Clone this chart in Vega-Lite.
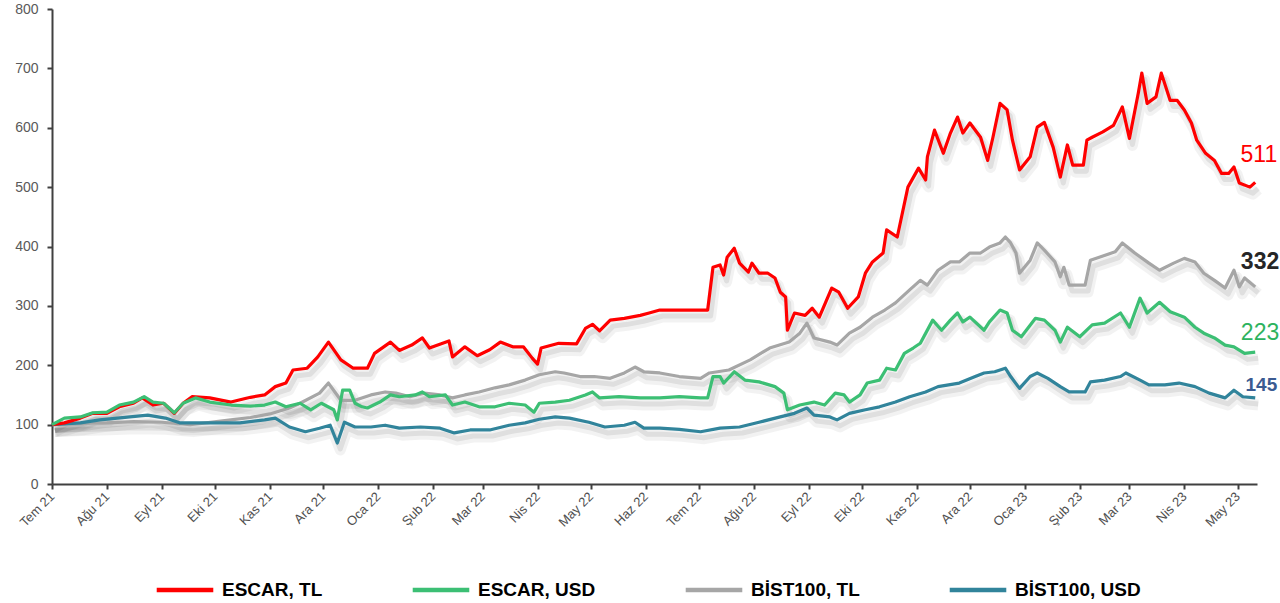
{
  "$schema": "https://vega.github.io/schema/vega-lite/v6.json",
  "autosize": {"type": "none"},
  "width": 1205,
  "height": 475,
  "padding": {"left": 52, "top": 9, "right": 23, "bottom": 119},
  "background": "white",
  "config": {"view": {"stroke": null}, "font": "Liberation Sans"},
  "datasets": {
    "lines": [
      {"series":"BİST100, TL","date":"2021-07-01","value":100},
      {"series":"BİST100, TL","date":"2021-07-17","value":102},
      {"series":"BİST100, TL","date":"2021-08-01","value":103},
      {"series":"BİST100, TL","date":"2021-08-16","value":105},
      {"series":"BİST100, TL","date":"2021-09-01","value":104},
      {"series":"BİST100, TL","date":"2021-09-17","value":100},
      {"series":"BİST100, TL","date":"2021-09-26","value":103},
      {"series":"BİST100, TL","date":"2021-10-10","value":108},
      {"series":"BİST100, TL","date":"2021-10-21","value":112},
      {"series":"BİST100, TL","date":"2021-11-01","value":118},
      {"series":"BİST100, TL","date":"2021-11-12","value":128},
      {"series":"BİST100, TL","date":"2021-11-18","value":136},
      {"series":"BİST100, TL","date":"2021-11-29","value":153},
      {"series":"BİST100, TL","date":"2021-12-04","value":170},
      {"series":"BİST100, TL","date":"2021-12-11","value":141},
      {"series":"BİST100, TL","date":"2021-12-19","value":141},
      {"series":"BİST100, TL","date":"2021-12-28","value":150},
      {"series":"BİST100, TL","date":"2022-01-05","value":155},
      {"series":"BİST100, TL","date":"2022-01-11","value":153},
      {"series":"BİST100, TL","date":"2022-01-19","value":147},
      {"series":"BİST100, TL","date":"2022-01-27","value":153},
      {"series":"BİST100, TL","date":"2022-02-05","value":150},
      {"series":"BİST100, TL","date":"2022-02-12","value":145},
      {"series":"BİST100, TL","date":"2022-02-19","value":150},
      {"series":"BİST100, TL","date":"2022-02-27","value":155},
      {"series":"BİST100, TL","date":"2022-03-08","value":162},
      {"series":"BİST100, TL","date":"2022-03-16","value":167},
      {"series":"BİST100, TL","date":"2022-03-25","value":175},
      {"series":"BİST100, TL","date":"2022-04-02","value":184},
      {"series":"BİST100, TL","date":"2022-04-11","value":189},
      {"series":"BİST100, TL","date":"2022-04-16","value":187},
      {"series":"BİST100, TL","date":"2022-04-25","value":181},
      {"series":"BİST100, TL","date":"2022-05-03","value":181},
      {"series":"BİST100, TL","date":"2022-05-12","value":178},
      {"series":"BİST100, TL","date":"2022-05-20","value":187},
      {"series":"BİST100, TL","date":"2022-05-26","value":197},
      {"series":"BİST100, TL","date":"2022-05-31","value":189},
      {"series":"BİST100, TL","date":"2022-06-09","value":187},
      {"series":"BİST100, TL","date":"2022-06-20","value":181},
      {"series":"BİST100, TL","date":"2022-07-02","value":178},
      {"series":"BİST100, TL","date":"2022-07-07","value":187},
      {"series":"BİST100, TL","date":"2022-07-18","value":192},
      {"series":"BİST100, TL","date":"2022-07-30","value":209},
      {"series":"BİST100, TL","date":"2022-08-10","value":229},
      {"series":"BİST100, TL","date":"2022-08-21","value":239},
      {"series":"BİST100, TL","date":"2022-08-27","value":254},
      {"series":"BİST100, TL","date":"2022-08-31","value":271},
      {"series":"BİST100, TL","date":"2022-09-04","value":246},
      {"series":"BİST100, TL","date":"2022-09-13","value":239},
      {"series":"BİST100, TL","date":"2022-09-17","value":234},
      {"series":"BİST100, TL","date":"2022-09-24","value":254},
      {"series":"BİST100, TL","date":"2022-09-30","value":264},
      {"series":"BİST100, TL","date":"2022-10-07","value":281},
      {"series":"BİST100, TL","date":"2022-10-14","value":293},
      {"series":"BİST100, TL","date":"2022-10-20","value":305},
      {"series":"BİST100, TL","date":"2022-10-28","value":327},
      {"series":"BİST100, TL","date":"2022-11-03","value":343},
      {"series":"BİST100, TL","date":"2022-11-07","value":335},
      {"series":"BİST100, TL","date":"2022-11-13","value":360},
      {"series":"BİST100, TL","date":"2022-11-20","value":374},
      {"series":"BİST100, TL","date":"2022-11-25","value":374},
      {"series":"BİST100, TL","date":"2022-12-01","value":389},
      {"series":"BİST100, TL","date":"2022-12-07","value":389},
      {"series":"BİST100, TL","date":"2022-12-12","value":399},
      {"series":"BİST100, TL","date":"2022-12-18","value":406},
      {"series":"BİST100, TL","date":"2022-12-21","value":416},
      {"series":"BİST100, TL","date":"2022-12-24","value":406},
      {"series":"BİST100, TL","date":"2022-12-27","value":389},
      {"series":"BİST100, TL","date":"2022-12-29","value":355},
      {"series":"BİST100, TL","date":"2023-01-04","value":377},
      {"series":"BİST100, TL","date":"2023-01-08","value":406},
      {"series":"BİST100, TL","date":"2023-01-12","value":394},
      {"series":"BİST100, TL","date":"2023-01-18","value":374},
      {"series":"BİST100, TL","date":"2023-01-21","value":349},
      {"series":"BİST100, TL","date":"2023-01-23","value":365},
      {"series":"BİST100, TL","date":"2023-01-26","value":335},
      {"series":"BİST100, TL","date":"2023-02-04","value":335},
      {"series":"BİST100, TL","date":"2023-02-07","value":377},
      {"series":"BİST100, TL","date":"2023-02-12","value":382},
      {"series":"BİST100, TL","date":"2023-02-21","value":391},
      {"series":"BİST100, TL","date":"2023-02-25","value":406},
      {"series":"BİST100, TL","date":"2023-03-04","value":389},
      {"series":"BİST100, TL","date":"2023-03-12","value":372},
      {"series":"BİST100, TL","date":"2023-03-18","value":360},
      {"series":"BİST100, TL","date":"2023-03-26","value":372},
      {"series":"BİST100, TL","date":"2023-04-01","value":380},
      {"series":"BİST100, TL","date":"2023-04-07","value":374},
      {"series":"BİST100, TL","date":"2023-04-12","value":355},
      {"series":"BİST100, TL","date":"2023-04-18","value":343},
      {"series":"BİST100, TL","date":"2023-04-24","value":330},
      {"series":"BİST100, TL","date":"2023-04-29","value":360},
      {"series":"BİST100, TL","date":"2023-05-02","value":332},
      {"series":"BİST100, TL","date":"2023-05-05","value":347},
      {"series":"BİST100, TL","date":"2023-05-11","value":332},

      {"series":"BİST100, USD","date":"2021-07-01","value":100},
      {"series":"BİST100, USD","date":"2021-07-17","value":103},
      {"series":"BİST100, USD","date":"2021-07-28","value":108},
      {"series":"BİST100, USD","date":"2021-08-14","value":113},
      {"series":"BİST100, USD","date":"2021-08-24","value":116},
      {"series":"BİST100, USD","date":"2021-09-03","value":111},
      {"series":"BİST100, USD","date":"2021-09-11","value":103},
      {"series":"BİST100, USD","date":"2021-09-28","value":103},
      {"series":"BİST100, USD","date":"2021-10-15","value":103},
      {"series":"BİST100, USD","date":"2021-10-29","value":108},
      {"series":"BİST100, USD","date":"2021-11-04","value":111},
      {"series":"BİST100, USD","date":"2021-11-12","value":96},
      {"series":"BİST100, USD","date":"2021-11-21","value":88},
      {"series":"BİST100, USD","date":"2021-11-29","value":94},
      {"series":"BİST100, USD","date":"2021-12-05","value":99},
      {"series":"BİST100, USD","date":"2021-12-09","value":69},
      {"series":"BİST100, USD","date":"2021-12-13","value":104},
      {"series":"BİST100, USD","date":"2021-12-19","value":96},
      {"series":"BİST100, USD","date":"2021-12-28","value":96},
      {"series":"BİST100, USD","date":"2022-01-05","value":99},
      {"series":"BİST100, USD","date":"2022-01-13","value":94},
      {"series":"BİST100, USD","date":"2022-01-25","value":96},
      {"series":"BİST100, USD","date":"2022-02-05","value":94},
      {"series":"BİST100, USD","date":"2022-02-13","value":86},
      {"series":"BİST100, USD","date":"2022-02-22","value":91},
      {"series":"BİST100, USD","date":"2022-03-05","value":91},
      {"series":"BİST100, USD","date":"2022-03-16","value":99},
      {"series":"BİST100, USD","date":"2022-03-25","value":103},
      {"series":"BİST100, USD","date":"2022-04-02","value":109},
      {"series":"BİST100, USD","date":"2022-04-11","value":113},
      {"series":"BİST100, USD","date":"2022-04-19","value":111},
      {"series":"BİST100, USD","date":"2022-04-30","value":104},
      {"series":"BİST100, USD","date":"2022-05-09","value":96},
      {"series":"BİST100, USD","date":"2022-05-20","value":99},
      {"series":"BİST100, USD","date":"2022-05-26","value":104},
      {"series":"BİST100, USD","date":"2022-05-31","value":94},
      {"series":"BİST100, USD","date":"2022-06-09","value":94},
      {"series":"BİST100, USD","date":"2022-06-20","value":92},
      {"series":"BİST100, USD","date":"2022-07-02","value":88},
      {"series":"BİST100, USD","date":"2022-07-13","value":94},
      {"series":"BİST100, USD","date":"2022-07-24","value":96},
      {"series":"BİST100, USD","date":"2022-08-04","value":104},
      {"series":"BİST100, USD","date":"2022-08-16","value":113},
      {"series":"BİST100, USD","date":"2022-08-24","value":119},
      {"series":"BİST100, USD","date":"2022-08-31","value":128},
      {"series":"BİST100, USD","date":"2022-09-04","value":116},
      {"series":"BİST100, USD","date":"2022-09-13","value":113},
      {"series":"BİST100, USD","date":"2022-09-17","value":108},
      {"series":"BİST100, USD","date":"2022-09-24","value":119},
      {"series":"BİST100, USD","date":"2022-10-03","value":125},
      {"series":"BİST100, USD","date":"2022-10-11","value":130},
      {"series":"BİST100, USD","date":"2022-10-20","value":138},
      {"series":"BİST100, USD","date":"2022-10-28","value":147},
      {"series":"BİST100, USD","date":"2022-11-06","value":155},
      {"series":"BİST100, USD","date":"2022-11-13","value":164},
      {"series":"BİST100, USD","date":"2022-11-25","value":170},
      {"series":"BİST100, USD","date":"2022-12-04","value":181},
      {"series":"BİST100, USD","date":"2022-12-09","value":187},
      {"series":"BİST100, USD","date":"2022-12-15","value":189},
      {"series":"BİST100, USD","date":"2022-12-21","value":195},
      {"series":"BİST100, USD","date":"2022-12-24","value":181},
      {"series":"BİST100, USD","date":"2022-12-29","value":161},
      {"series":"BİST100, USD","date":"2023-01-04","value":181},
      {"series":"BİST100, USD","date":"2023-01-08","value":187},
      {"series":"BİST100, USD","date":"2023-01-14","value":178},
      {"series":"BİST100, USD","date":"2023-01-21","value":164},
      {"series":"BİST100, USD","date":"2023-01-26","value":155},
      {"series":"BİST100, USD","date":"2023-02-04","value":155},
      {"series":"BİST100, USD","date":"2023-02-07","value":172},
      {"series":"BİST100, USD","date":"2023-02-15","value":175},
      {"series":"BİST100, USD","date":"2023-02-24","value":181},
      {"series":"BİST100, USD","date":"2023-02-27","value":187},
      {"series":"BİST100, USD","date":"2023-03-07","value":175},
      {"series":"BİST100, USD","date":"2023-03-12","value":167},
      {"series":"BİST100, USD","date":"2023-03-21","value":167},
      {"series":"BİST100, USD","date":"2023-03-29","value":170},
      {"series":"BİST100, USD","date":"2023-04-07","value":164},
      {"series":"BİST100, USD","date":"2023-04-15","value":153},
      {"series":"BİST100, USD","date":"2023-04-24","value":145},
      {"series":"BİST100, USD","date":"2023-04-29","value":158},
      {"series":"BİST100, USD","date":"2023-05-04","value":147},
      {"series":"BİST100, USD","date":"2023-05-11","value":145},

      {"series":"ESCAR, TL","date":"2021-07-01","value":100},
      {"series":"ESCAR, TL","date":"2021-07-08","value":103},
      {"series":"ESCAR, TL","date":"2021-07-17","value":111},
      {"series":"ESCAR, TL","date":"2021-07-24","value":119},
      {"series":"ESCAR, TL","date":"2021-08-01","value":119},
      {"series":"ESCAR, TL","date":"2021-08-08","value":130},
      {"series":"ESCAR, TL","date":"2021-08-16","value":136},
      {"series":"ESCAR, TL","date":"2021-08-21","value":145},
      {"series":"ESCAR, TL","date":"2021-08-27","value":133},
      {"series":"ESCAR, TL","date":"2021-09-02","value":136},
      {"series":"ESCAR, TL","date":"2021-09-08","value":119},
      {"series":"ESCAR, TL","date":"2021-09-13","value":136},
      {"series":"ESCAR, TL","date":"2021-09-18","value":147},
      {"series":"ESCAR, TL","date":"2021-09-28","value":145},
      {"series":"ESCAR, TL","date":"2021-10-10","value":138},
      {"series":"ESCAR, TL","date":"2021-10-21","value":146},
      {"series":"ESCAR, TL","date":"2021-10-29","value":150},
      {"series":"ESCAR, TL","date":"2021-11-04","value":164},
      {"series":"ESCAR, TL","date":"2021-11-10","value":170},
      {"series":"ESCAR, TL","date":"2021-11-14","value":192},
      {"series":"ESCAR, TL","date":"2021-11-22","value":195},
      {"series":"ESCAR, TL","date":"2021-11-28","value":214},
      {"series":"ESCAR, TL","date":"2021-12-04","value":239},
      {"series":"ESCAR, TL","date":"2021-12-11","value":209},
      {"series":"ESCAR, TL","date":"2021-12-18","value":195},
      {"series":"ESCAR, TL","date":"2021-12-26","value":195},
      {"series":"ESCAR, TL","date":"2021-12-30","value":220},
      {"series":"ESCAR, TL","date":"2022-01-08","value":239},
      {"series":"ESCAR, TL","date":"2022-01-13","value":225},
      {"series":"ESCAR, TL","date":"2022-01-20","value":234},
      {"series":"ESCAR, TL","date":"2022-01-26","value":246},
      {"series":"ESCAR, TL","date":"2022-01-30","value":229},
      {"series":"ESCAR, TL","date":"2022-02-10","value":241},
      {"series":"ESCAR, TL","date":"2022-02-12","value":214},
      {"series":"ESCAR, TL","date":"2022-02-19","value":231},
      {"series":"ESCAR, TL","date":"2022-02-26","value":216},
      {"series":"ESCAR, TL","date":"2022-03-05","value":226},
      {"series":"ESCAR, TL","date":"2022-03-11","value":239},
      {"series":"ESCAR, TL","date":"2022-03-18","value":231},
      {"series":"ESCAR, TL","date":"2022-03-24","value":231},
      {"series":"ESCAR, TL","date":"2022-03-29","value":212},
      {"series":"ESCAR, TL","date":"2022-04-01","value":202},
      {"series":"ESCAR, TL","date":"2022-04-03","value":229},
      {"series":"ESCAR, TL","date":"2022-04-13","value":237},
      {"series":"ESCAR, TL","date":"2022-04-23","value":236},
      {"series":"ESCAR, TL","date":"2022-04-28","value":262},
      {"series":"ESCAR, TL","date":"2022-05-02","value":269},
      {"series":"ESCAR, TL","date":"2022-05-06","value":258},
      {"series":"ESCAR, TL","date":"2022-05-12","value":276},
      {"series":"ESCAR, TL","date":"2022-05-20","value":279},
      {"series":"ESCAR, TL","date":"2022-05-29","value":284},
      {"series":"ESCAR, TL","date":"2022-06-03","value":288},
      {"series":"ESCAR, TL","date":"2022-06-09","value":293},
      {"series":"ESCAR, TL","date":"2022-06-20","value":293},
      {"series":"ESCAR, TL","date":"2022-07-02","value":293},
      {"series":"ESCAR, TL","date":"2022-07-06","value":293},
      {"series":"ESCAR, TL","date":"2022-07-09","value":365},
      {"series":"ESCAR, TL","date":"2022-07-13","value":369},
      {"series":"ESCAR, TL","date":"2022-07-15","value":352},
      {"series":"ESCAR, TL","date":"2022-07-17","value":382},
      {"series":"ESCAR, TL","date":"2022-07-21","value":397},
      {"series":"ESCAR, TL","date":"2022-07-24","value":372},
      {"series":"ESCAR, TL","date":"2022-07-29","value":357},
      {"series":"ESCAR, TL","date":"2022-07-31","value":372},
      {"series":"ESCAR, TL","date":"2022-08-04","value":355},
      {"series":"ESCAR, TL","date":"2022-08-09","value":355},
      {"series":"ESCAR, TL","date":"2022-08-13","value":347},
      {"series":"ESCAR, TL","date":"2022-08-16","value":323},
      {"series":"ESCAR, TL","date":"2022-08-19","value":315},
      {"series":"ESCAR, TL","date":"2022-08-20","value":259},
      {"series":"ESCAR, TL","date":"2022-08-24","value":288},
      {"series":"ESCAR, TL","date":"2022-08-30","value":284},
      {"series":"ESCAR, TL","date":"2022-09-03","value":296},
      {"series":"ESCAR, TL","date":"2022-09-07","value":281},
      {"series":"ESCAR, TL","date":"2022-09-14","value":330},
      {"series":"ESCAR, TL","date":"2022-09-18","value":323},
      {"series":"ESCAR, TL","date":"2022-09-23","value":296},
      {"series":"ESCAR, TL","date":"2022-09-29","value":315},
      {"series":"ESCAR, TL","date":"2022-10-03","value":355},
      {"series":"ESCAR, TL","date":"2022-10-07","value":374},
      {"series":"ESCAR, TL","date":"2022-10-13","value":389},
      {"series":"ESCAR, TL","date":"2022-10-15","value":428},
      {"series":"ESCAR, TL","date":"2022-10-21","value":416},
      {"series":"ESCAR, TL","date":"2022-10-27","value":500},
      {"series":"ESCAR, TL","date":"2022-11-02","value":532},
      {"series":"ESCAR, TL","date":"2022-11-06","value":512},
      {"series":"ESCAR, TL","date":"2022-11-07","value":551},
      {"series":"ESCAR, TL","date":"2022-11-11","value":596},
      {"series":"ESCAR, TL","date":"2022-11-16","value":557},
      {"series":"ESCAR, TL","date":"2022-11-20","value":591},
      {"series":"ESCAR, TL","date":"2022-11-24","value":618},
      {"series":"ESCAR, TL","date":"2022-11-27","value":591},
      {"series":"ESCAR, TL","date":"2022-12-01","value":608},
      {"series":"ESCAR, TL","date":"2022-12-07","value":584},
      {"series":"ESCAR, TL","date":"2022-12-11","value":545},
      {"series":"ESCAR, TL","date":"2022-12-14","value":584},
      {"series":"ESCAR, TL","date":"2022-12-18","value":641},
      {"series":"ESCAR, TL","date":"2022-12-22","value":630},
      {"series":"ESCAR, TL","date":"2022-12-25","value":579},
      {"series":"ESCAR, TL","date":"2022-12-29","value":529},
      {"series":"ESCAR, TL","date":"2023-01-04","value":551},
      {"series":"ESCAR, TL","date":"2023-01-08","value":601},
      {"series":"ESCAR, TL","date":"2023-01-12","value":609},
      {"series":"ESCAR, TL","date":"2023-01-17","value":567},
      {"series":"ESCAR, TL","date":"2023-01-21","value":517},
      {"series":"ESCAR, TL","date":"2023-01-25","value":571},
      {"series":"ESCAR, TL","date":"2023-01-28","value":537},
      {"series":"ESCAR, TL","date":"2023-02-03","value":537},
      {"series":"ESCAR, TL","date":"2023-02-05","value":579},
      {"series":"ESCAR, TL","date":"2023-02-08","value":584},
      {"series":"ESCAR, TL","date":"2023-02-14","value":593},
      {"series":"ESCAR, TL","date":"2023-02-20","value":604},
      {"series":"ESCAR, TL","date":"2023-02-25","value":635},
      {"series":"ESCAR, TL","date":"2023-03-01","value":582},
      {"series":"ESCAR, TL","date":"2023-03-06","value":658},
      {"series":"ESCAR, TL","date":"2023-03-08","value":692},
      {"series":"ESCAR, TL","date":"2023-03-11","value":641},
      {"series":"ESCAR, TL","date":"2023-03-16","value":652},
      {"series":"ESCAR, TL","date":"2023-03-19","value":692},
      {"series":"ESCAR, TL","date":"2023-03-24","value":646},
      {"series":"ESCAR, TL","date":"2023-03-28","value":646},
      {"series":"ESCAR, TL","date":"2023-04-01","value":630},
      {"series":"ESCAR, TL","date":"2023-04-05","value":608},
      {"series":"ESCAR, TL","date":"2023-04-08","value":579},
      {"series":"ESCAR, TL","date":"2023-04-13","value":557},
      {"series":"ESCAR, TL","date":"2023-04-18","value":545},
      {"series":"ESCAR, TL","date":"2023-04-22","value":523},
      {"series":"ESCAR, TL","date":"2023-04-26","value":523},
      {"series":"ESCAR, TL","date":"2023-04-29","value":534},
      {"series":"ESCAR, TL","date":"2023-05-02","value":507},
      {"series":"ESCAR, TL","date":"2023-05-08","value":500},
      {"series":"ESCAR, TL","date":"2023-05-11","value":508},

      {"series":"ESCAR, USD","date":"2021-07-01","value":100},
      {"series":"ESCAR, USD","date":"2021-07-08","value":111},
      {"series":"ESCAR, USD","date":"2021-07-17","value":113},
      {"series":"ESCAR, USD","date":"2021-07-24","value":120},
      {"series":"ESCAR, USD","date":"2021-08-01","value":121},
      {"series":"ESCAR, USD","date":"2021-08-08","value":133},
      {"series":"ESCAR, USD","date":"2021-08-16","value":138},
      {"series":"ESCAR, USD","date":"2021-08-22","value":147},
      {"series":"ESCAR, USD","date":"2021-08-27","value":138},
      {"series":"ESCAR, USD","date":"2021-09-02","value":136},
      {"series":"ESCAR, USD","date":"2021-09-08","value":120},
      {"series":"ESCAR, USD","date":"2021-09-13","value":136},
      {"series":"ESCAR, USD","date":"2021-09-20","value":145},
      {"series":"ESCAR, USD","date":"2021-09-28","value":138},
      {"series":"ESCAR, USD","date":"2021-10-10","value":133},
      {"series":"ESCAR, USD","date":"2021-10-21","value":131},
      {"series":"ESCAR, USD","date":"2021-10-29","value":133},
      {"series":"ESCAR, USD","date":"2021-11-04","value":138},
      {"series":"ESCAR, USD","date":"2021-11-10","value":130},
      {"series":"ESCAR, USD","date":"2021-11-18","value":136},
      {"series":"ESCAR, USD","date":"2021-11-24","value":125},
      {"series":"ESCAR, USD","date":"2021-11-30","value":136},
      {"series":"ESCAR, USD","date":"2021-12-07","value":125},
      {"series":"ESCAR, USD","date":"2021-12-09","value":108},
      {"series":"ESCAR, USD","date":"2021-12-12","value":158},
      {"series":"ESCAR, USD","date":"2021-12-16","value":158},
      {"series":"ESCAR, USD","date":"2021-12-19","value":136},
      {"series":"ESCAR, USD","date":"2021-12-23","value":130},
      {"series":"ESCAR, USD","date":"2021-12-26","value":128},
      {"series":"ESCAR, USD","date":"2022-01-02","value":138},
      {"series":"ESCAR, USD","date":"2022-01-08","value":150},
      {"series":"ESCAR, USD","date":"2022-01-13","value":147},
      {"series":"ESCAR, USD","date":"2022-01-22","value":150},
      {"series":"ESCAR, USD","date":"2022-01-26","value":155},
      {"series":"ESCAR, USD","date":"2022-01-30","value":147},
      {"series":"ESCAR, USD","date":"2022-02-08","value":150},
      {"series":"ESCAR, USD","date":"2022-02-12","value":133},
      {"series":"ESCAR, USD","date":"2022-02-19","value":138},
      {"series":"ESCAR, USD","date":"2022-02-27","value":130},
      {"series":"ESCAR, USD","date":"2022-03-08","value":130},
      {"series":"ESCAR, USD","date":"2022-03-16","value":136},
      {"series":"ESCAR, USD","date":"2022-03-25","value":133},
      {"series":"ESCAR, USD","date":"2022-03-30","value":121},
      {"series":"ESCAR, USD","date":"2022-04-02","value":136},
      {"series":"ESCAR, USD","date":"2022-04-11","value":138},
      {"series":"ESCAR, USD","date":"2022-04-19","value":141},
      {"series":"ESCAR, USD","date":"2022-04-28","value":150},
      {"series":"ESCAR, USD","date":"2022-05-02","value":155},
      {"series":"ESCAR, USD","date":"2022-05-06","value":145},
      {"series":"ESCAR, USD","date":"2022-05-17","value":147},
      {"series":"ESCAR, USD","date":"2022-05-29","value":145},
      {"series":"ESCAR, USD","date":"2022-06-09","value":145},
      {"series":"ESCAR, USD","date":"2022-06-20","value":147},
      {"series":"ESCAR, USD","date":"2022-07-02","value":145},
      {"series":"ESCAR, USD","date":"2022-07-06","value":145},
      {"series":"ESCAR, USD","date":"2022-07-09","value":181},
      {"series":"ESCAR, USD","date":"2022-07-13","value":181},
      {"series":"ESCAR, USD","date":"2022-07-15","value":170},
      {"series":"ESCAR, USD","date":"2022-07-21","value":189},
      {"series":"ESCAR, USD","date":"2022-07-27","value":175},
      {"series":"ESCAR, USD","date":"2022-08-04","value":172},
      {"series":"ESCAR, USD","date":"2022-08-13","value":164},
      {"series":"ESCAR, USD","date":"2022-08-18","value":153},
      {"series":"ESCAR, USD","date":"2022-08-20","value":125},
      {"series":"ESCAR, USD","date":"2022-08-27","value":133},
      {"series":"ESCAR, USD","date":"2022-09-04","value":138},
      {"series":"ESCAR, USD","date":"2022-09-10","value":133},
      {"series":"ESCAR, USD","date":"2022-09-16","value":153},
      {"series":"ESCAR, USD","date":"2022-09-21","value":150},
      {"series":"ESCAR, USD","date":"2022-09-24","value":138},
      {"series":"ESCAR, USD","date":"2022-09-30","value":150},
      {"series":"ESCAR, USD","date":"2022-10-04","value":170},
      {"series":"ESCAR, USD","date":"2022-10-11","value":175},
      {"series":"ESCAR, USD","date":"2022-10-15","value":195},
      {"series":"ESCAR, USD","date":"2022-10-20","value":192},
      {"series":"ESCAR, USD","date":"2022-10-25","value":220},
      {"series":"ESCAR, USD","date":"2022-10-30","value":229},
      {"series":"ESCAR, USD","date":"2022-11-03","value":237},
      {"series":"ESCAR, USD","date":"2022-11-10","value":276},
      {"series":"ESCAR, USD","date":"2022-11-15","value":259},
      {"series":"ESCAR, USD","date":"2022-11-20","value":276},
      {"series":"ESCAR, USD","date":"2022-11-24","value":288},
      {"series":"ESCAR, USD","date":"2022-11-27","value":273},
      {"series":"ESCAR, USD","date":"2022-12-01","value":281},
      {"series":"ESCAR, USD","date":"2022-12-09","value":259},
      {"series":"ESCAR, USD","date":"2022-12-12","value":273},
      {"series":"ESCAR, USD","date":"2022-12-18","value":293},
      {"series":"ESCAR, USD","date":"2022-12-22","value":288},
      {"series":"ESCAR, USD","date":"2022-12-25","value":259},
      {"series":"ESCAR, USD","date":"2022-12-30","value":248},
      {"series":"ESCAR, USD","date":"2023-01-07","value":279},
      {"series":"ESCAR, USD","date":"2023-01-12","value":276},
      {"series":"ESCAR, USD","date":"2023-01-18","value":259},
      {"series":"ESCAR, USD","date":"2023-01-21","value":239},
      {"series":"ESCAR, USD","date":"2023-01-25","value":264},
      {"series":"ESCAR, USD","date":"2023-02-01","value":248},
      {"series":"ESCAR, USD","date":"2023-02-08","value":268},
      {"series":"ESCAR, USD","date":"2023-02-15","value":271},
      {"series":"ESCAR, USD","date":"2023-02-24","value":288},
      {"series":"ESCAR, USD","date":"2023-03-01","value":264},
      {"series":"ESCAR, USD","date":"2023-03-07","value":313},
      {"series":"ESCAR, USD","date":"2023-03-11","value":288},
      {"series":"ESCAR, USD","date":"2023-03-18","value":306},
      {"series":"ESCAR, USD","date":"2023-03-24","value":290},
      {"series":"ESCAR, USD","date":"2023-04-01","value":281},
      {"series":"ESCAR, USD","date":"2023-04-07","value":264},
      {"series":"ESCAR, USD","date":"2023-04-12","value":254},
      {"series":"ESCAR, USD","date":"2023-04-18","value":246},
      {"series":"ESCAR, USD","date":"2023-04-24","value":234},
      {"series":"ESCAR, USD","date":"2023-04-29","value":231},
      {"series":"ESCAR, USD","date":"2023-05-05","value":220},
      {"series":"ESCAR, USD","date":"2023-05-11","value":222}
    ]
  },
  "encoding": {
    "x": {
      "field": "date",
      "type": "temporal",
      "title": null,
      "scale": {
        "type": "utc",
        "domain": [
          {"year": 2021, "month": 7, "date": 1, "utc": true},
          {"year": 2023, "month": 5, "date": 12, "utc": true}
        ]
      },
      "axis": {
        "values": [
          {"year": 2021, "month": 7, "date": 1, "utc": true},
          {"year": 2021, "month": 8, "date": 1, "utc": true},
          {"year": 2021, "month": 9, "date": 1, "utc": true},
          {"year": 2021, "month": 10, "date": 1, "utc": true},
          {"year": 2021, "month": 11, "date": 1, "utc": true},
          {"year": 2021, "month": 12, "date": 1, "utc": true},
          {"year": 2022, "month": 1, "date": 1, "utc": true},
          {"year": 2022, "month": 2, "date": 1, "utc": true},
          {"year": 2022, "month": 3, "date": 1, "utc": true},
          {"year": 2022, "month": 4, "date": 1, "utc": true},
          {"year": 2022, "month": 5, "date": 1, "utc": true},
          {"year": 2022, "month": 6, "date": 1, "utc": true},
          {"year": 2022, "month": 7, "date": 1, "utc": true},
          {"year": 2022, "month": 8, "date": 1, "utc": true},
          {"year": 2022, "month": 9, "date": 1, "utc": true},
          {"year": 2022, "month": 10, "date": 1, "utc": true},
          {"year": 2022, "month": 11, "date": 1, "utc": true},
          {"year": 2022, "month": 12, "date": 1, "utc": true},
          {"year": 2023, "month": 1, "date": 1, "utc": true},
          {"year": 2023, "month": 2, "date": 1, "utc": true},
          {"year": 2023, "month": 3, "date": 1, "utc": true},
          {"year": 2023, "month": 4, "date": 1, "utc": true},
          {"year": 2023, "month": 5, "date": 1, "utc": true}
        ],
        "labelExpr": "['Oca','Şub','Mar','Nis','May','Haz','Tem','Ağu','Eyl','Eki','Kas','Ara'][utcmonth(datum.value)] + ' ' + utcFormat(datum.value, '%y')",
        "labelAngle": -45,
        "labelAlign": "right",
        "labelBaseline": "middle",
        "labelFont": "Liberation Sans",
        "labelFontSize": 13,
        "labelColor": "#505050",
        "labelPadding": 5,
        "labelOverlap": false,
        "labelFlush": false,
        "grid": false,
        "domainColor": "#404040",
        "domainWidth": 2,
        "tickColor": "#404040",
        "tickWidth": 2,
        "tickSize": 5
      }
    },
    "y": {
      "field": "value",
      "type": "quantitative",
      "title": null,
      "scale": {"domain": [0, 800], "nice": false},
      "axis": {
        "values": [0, 100, 200, 300, 400, 500, 600, 700, 800],
        "labelFont": "Liberation Sans",
        "labelFontSize": 14,
        "labelColor": "#595959",
        "labelPadding": 9,
        "grid": false,
        "domainColor": "#404040",
        "domainWidth": 2,
        "tickColor": "#404040",
        "tickWidth": 2,
        "tickSize": 5
      }
    }
  },
  "layer": [
    {
      "data": {"name": "lines"},
      "mark": {"type": "line", "color": "#000000", "opacity": 0.05, "strokeWidth": 11, "xOffset": 3, "yOffset": 7, "strokeJoin": "round"},
      "encoding": {"detail": {"field": "series"}}
    },
    {
      "data": {"name": "lines"},
      "mark": {"type": "line", "color": "#000000", "opacity": 0.08, "strokeWidth": 5, "xOffset": 3, "yOffset": 6, "strokeJoin": "round"},
      "encoding": {"detail": {"field": "series"}}
    },
    {
      "data": {"name": "lines"},
      "mark": {"type": "line", "strokeWidth": 3.2, "strokeJoin": "round"},
      "encoding": {
        "color": {
          "field": "series",
          "type": "nominal",
          "sort": null,
          "scale": {
            "domain": ["ESCAR, TL", "ESCAR, USD", "BİST100, TL", "BİST100, USD"],
            "range": ["#FF0000", "#3CBF74", "#A6A6A6", "#31849B"]
          },
          "legend": {
            "title": null,
            "orient": "none",
            "direction": "horizontal",
            "legendX": 102,
            "legendY": 550,
            "padding": 0,
            "symbolType": "stroke",
            "symbolSize": 3200,
            "symbolStrokeWidth": 4.5,
            "labelFont": "Liberation Sans",
            "labelFontSize": 19,
            "labelFontWeight": "bold",
            "labelColor": "#000000",
            "labelOffset": 6,
            "columnPadding": 80,
            "labelLimit": 400
          }
        }
      }
    },
    {
      "data": {"values": [{"date": "2023-05-11", "value": 511, "label": "511"}]},
      "mark": {"type": "text", "align": "right", "baseline": "middle", "dx": 22, "dy": -26, "fontSize": 23, "font": "Liberation Sans", "color": "#FF0000"},
      "encoding": {"text": {"field": "label"}}
    },
    {
      "data": {"values": [{"date": "2023-05-11", "value": 332, "label": "332"}]},
      "mark": {"type": "text", "align": "right", "baseline": "middle", "dx": 24, "dy": -25, "fontSize": 23, "fontWeight": "bold", "font": "Liberation Sans", "color": "#262626"},
      "encoding": {"text": {"field": "label"}}
    },
    {
      "data": {"values": [{"date": "2023-05-11", "value": 223, "label": "223"}]},
      "mark": {"type": "text", "align": "right", "baseline": "middle", "dx": 24, "dy": -19, "fontSize": 23, "font": "Liberation Sans", "color": "#2DB35E"},
      "encoding": {"text": {"field": "label"}}
    },
    {
      "data": {"values": [{"date": "2023-05-11", "value": 145, "label": "145"}]},
      "mark": {"type": "text", "align": "right", "baseline": "middle", "dx": 22, "dy": -13, "fontSize": 19, "fontWeight": "bold", "font": "Liberation Sans", "color": "#3B5B92"},
      "encoding": {"text": {"field": "label"}}
    }
  ]
}
